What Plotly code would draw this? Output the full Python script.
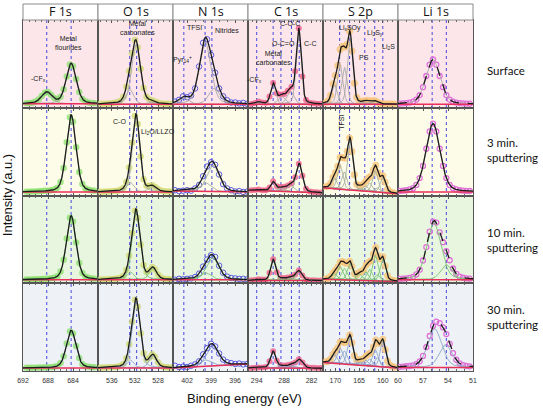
import numpy as np
import plotly.graph_objects as go

# ---------------- labels / axes ----------------
COLUMNS = ["F 1s", "O 1s", "N 1s", "C 1s", "S 2p", "Li 1s"]
ROWS = ["Surface", "3 min.<br>sputtering", "10 min.<br>sputtering", "30 min.<br>sputtering"]
X_RANGES = [(692, 680), (538.4, 525.4), (403.75, 394.4), (295.9, 279.5), (172.6, 156.8), (60, 51)]
TICKS = [[692, 688, 684], [536, 532, 528], [402, 399, 396], [294, 288, 282], [170, 165, 160], [60, 57, 54, 51]]
REF_LINES = [[688.2, 684.3], [532.9, 531.7, 529.1], [402.4, 399.75, 398.9],
             [294.0, 290.4, 288.7, 286.4, 284.7], [169.1, 167.0, 163.8, 161.7, 160.0], [55.9, 54.2]]

E_F = [691.5, 691.0, 690.5, 690.0, 689.5, 689.0, 688.5, 688.0, 687.5, 687.0, 686.5, 686.0,
       685.5, 685.0, 684.5, 684.0, 683.5, 683.0, 682.5, 682.0, 681.5, 681.0, 680.5]
F_R1 = [.052, .054, .058, .07, .094, .133, .172, .18, .148, .11, .096, .124, .21, .356, .494, .472, .328, .18, .1, .071, .06, .055, .052]
F_R2 = [.043, .044, .045, .046, .048, .05, .053, .055, .059, .067, .088, .154, .313, .608, .891, .84, .55, .269, .132, .081, .066, .058, .054]
F_R3 = [.042, .043, .044, .045, .047, .048, .051, .052, .056, .062, .08, .135, .267, .511, .746, .704, .463, .23, .116, .074, .062, .055, .052]
F_R4 = [.037, .037, .038, .038, .039, .04, .041, .042, .044, .048, .058, .091, .168, .313, .451, .426, .284, .147, .08, .055, .048, .044, .042]

E_O = [538.0, 537.5, 537.0, 536.5, 536.0, 535.5, 535.0, 534.5, 534.0, 533.5, 533.0, 532.5, 532.0,
       531.5, 531.0, 530.5, 530.0, 529.5, 529.0, 528.5, 528.0, 527.5, 527.0, 526.5, 526.0, 525.5]
O_R1 = [.045, .046, .047, .049, .052, .057, .063, .079, .126, .24, .419, .62, .771, .686, .444, .226, .126, .094, .083, .068, .056, .049, .047, .046, .045, .044]
O_R2 = [.044, .044, .045, .047, .048, .051, .054, .065, .086, .155, .32, .601, .906, .815, .444, .186, .11, .111, .118, .098, .071, .056, .049, .046, .045, .044]
O_R3 = [.043, .044, .045, .047, .049, .05, .054, .064, .086, .152, .313, .571, .826, .745, .439, .207, .128, .149, .185, .158, .10, .065, .052, .049, .046, .044]
O_R4 = [.038, .039, .04, .042, .044, .045, .049, .059, .081, .146, .305, .56, .811, .731, .428, .202, .125, .15, .19, .161, .099, .061, .047, .043, .041, .039]

E_N = [403.5, 403.0, 402.5, 402.0, 401.5, 401.0, 400.5, 400.0, 399.5, 399.0, 398.5, 398.0,
       397.5, 397.0, 396.5, 396.0, 395.5, 395.0, 394.5]
N_R1 = [.07, .09, .13, .12, .14, .22, .47, .74, .78, .60, .40, .22, .13, .085, .06, .06, .05, .055, .045]
N_R2 = [.06, .05, .055, .06, .055, .08, .12, .22, .33, .38, .35, .24, .13, .08, .06, .045, .05, .04, .045]
N_R3 = [.04, .05, .045, .05, .055, .07, .11, .19, .27, .32, .30, .2, .12, .075, .06, .055, .05, .05, .045]
N_R4 = [.06, .045, .05, .045, .06, .075, .11, .19, .26, .31, .28, .2, .13, .1, .09, .08, .085, .075, .08]

E_C = [295.2, 294.4, 293.6, 292.8, 292.0, 291.2, 290.4, 289.6, 288.8, 288.0, 287.2, 286.4,
       285.6, 284.8, 284.0, 283.2, 282.4, 281.6, 280.8, 280.0]
C_R1 = [.044, .054, .07, .059, .057, .129, .283, .166, .149, .158, .193, .239, .417, .906, .355, .088, .057, .05, .047, .045]
C_R2 = [.06, .062, .067, .061, .059, .09, .161, .105, .097, .10, .115, .14, .208, .362, .226, .078, .046, .04, .036, .033]
C_R3 = [.033, .037, .045, .042, .044, .119, .274, .126, .064, .061, .065, .075, .10, .145, .087, .043, .035, .033, .032, .032]
C_R4 = [.034, .036, .04, .04, .046, .11, .225, .116, .066, .062, .067, .076, .096, .135, .098, .052, .038, .036, .033, .033]

E_S = [172.0, 171.5, 171.0, 170.5, 170.0, 169.5, 169.0, 168.5, 168.0, 167.5, 167.0, 166.5, 166.0,
       165.5, 165.0, 164.5, 164.0, 163.5, 163.0, 162.5, 162.0, 161.5, 161.0, 160.5, 160.0, 159.5,
       159.0, 158.5, 158.0, 157.5]
S_R1 = [.061, .081, .143, .274, .367, .482, .663, .702, .69, .724, .873, .646, .279, .119, .078, .073, .078, .084, .079, .076, .081, .076, .06, .049, .045, .044, .043, .042, .042, .041]
S_R2 = [.10, .105, .14, .209, .262, .332, .433, .433, .424, .504, .656, .502, .236, .129, .114, .117, .136, .172, .203, .222, .29, .344, .26, .215, .225, .15, .073, .042, .032, .027]
S_R3 = [.051, .055, .076, .117, .145, .184, .241, .247, .233, .224, .252, .193, .109, .097, .125, .131, .157, .21, .24, .256, .334, .407, .313, .275, .302, .198, .086, .043, .033, .028]
S_R4 = [.104, .111, .137, .192, .229, .266, .33, .332, .323, .345, .411, .321, .176, .123, .127, .128, .142, .173, .194, .207, .276, .353, .316, .318, .361, .243, .114, .065, .05, .043]

E_LI = [59.8, 59.4, 59.0, 58.6, 58.2, 57.8, 57.4, 57.0, 56.6, 56.2, 55.8, 55.4, 55.0, 54.6, 54.2,
        53.8, 53.4, 53.0, 52.6, 52.2, 51.8, 51.4]
LI_R1 = [.048, .05, .053, .059, .069, .093, .144, .234, .362, .491, .55, .491, .362, .234, .144, .093, .069, .059, .053, .05, .048, .047]
LI_R2 = [.052, .055, .06, .069, .084, .121, .199, .337, .533, .73, .82, .73, .533, .337, .199, .121, .084, .069, .06, .055, .052, .051]
LI_R3 = [.05, .052, .056, .062, .073, .101, .155, .259, .412, .588, .703, .692, .58, .467, .366, .262, .168, .107, .076, .063, .056, .052]
LI_R4 = [.048, .05, .054, .057, .064, .078, .11, .172, .272, .399, .514, .563, .545, .497, .421, .309, .203, .128, .088, .067, .058, .053]

# ---------------- fitted components: (centre eV, height, FWHM eV) ----------------
F_PEAKS = [[(688.2, .13, 2.0), (684.3, .46, 1.9)], [(684.3, .88, 1.8)], [(684.3, .73, 1.8)], [(684.3, .43, 1.8)]]
O_PEAKS = [[(531.8, .68, 1.8), (532.9, .17, 1.6), (529.2, .025, 1.5)],
           [(531.8, .86, 1.5), (532.8, .11, 1.4), (529.0, .06, 1.6)],
           [(531.8, .78, 1.6), (532.8, .09, 1.4), (528.9, .13, 1.5)],
           [(531.8, .77, 1.6), (532.8, .09, 1.4), (528.9, .14, 1.5)]]
N_PEAKS = [[(402.4, .07, 1.4), (399.75, .71, 1.7), (398.6, .18, 1.6)],
           [(402.4, .01, 1.4), (399.7, .10, 1.6), (398.75, .30, 1.8)],
           [(402.4, .005, 1.4), (399.7, .08, 1.6), (398.8, .25, 1.8)],
           [(402.4, .005, 1.4), (399.7, .072, 1.6), (398.8, .22, 1.8)]]
C_PEAKS = [[(293.8, .025, 1.5), (290.4, .23, 1.3), (288.5, .09, 1.8), (286.6, .15, 1.8), (284.8, .85, 1.3)],
           [(293.8, .01, 1.5), (290.4, .105, 1.3), (288.5, .04, 1.8), (286.6, .07, 1.8), (284.7, .32, 1.6)],
           [(293.8, .01, 1.5), (290.4, .24, 1.3), (288.5, .02, 1.8), (286.6, .03, 1.8), (284.8, .11, 1.6)],
           [(293.8, .008, 1.5), (290.4, .19, 1.4), (288.5, .02, 1.8), (286.6, .03, 1.8), (284.7, .10, 1.8)]]
S_PEAKS = [[(170.2, .22, 1.3), (169.0, .45, 1.3), (168.1, .42, 1.3), (166.9, .76, 1.3), (163.5, .03, 1.5), (161.8, .035, 1.5)],
           [(170.2, .12, 1.3), (169.0, .27, 1.3), (168.1, .20, 1.3), (166.9, .56, 1.3), (164.8, .03, 1.3),
            (163.6, .06, 1.3), (162.8, .10, 1.3), (161.6, .24, 1.3), (161.2, .05, 1.3), (160.0, .17, 1.3)],
           [(170.2, .07, 1.3), (169.0, .15, 1.3), (168.1, .13, 1.3), (166.9, .19, 1.3), (164.9, .07, 1.3),
            (163.6, .10, 1.3), (162.8, .13, 1.3), (161.6, .29, 1.3), (161.2, .07, 1.3), (160.0, .25, 1.3)],
           [(170.2, .10, 1.3), (169.0, .18, 1.3), (168.1, .15, 1.3), (166.9, .31, 1.3), (164.9, .04, 1.3),
            (163.6, .06, 1.3), (162.8, .08, 1.3), (161.6, .19, 1.3), (161.2, .10, 1.3), (160.0, .29, 1.3)]]
LI_PEAKS = [[(55.8, .51, 2.0)], [(55.8, .78, 2.0)], [(55.7, .65, 2.0), (54.2, .17, 1.6)], [(55.6, .44, 2.0), (54.3, .26, 1.8)]]

# background (left-edge value, right-edge value)
F_BASE = [(.045, .045), (.04, .04), (.04, .04), (.035, .035)]
O_BASE = [(.04, .04), (.04, .04), (.04, .04), (.035, .035)]
N_BASE = [(.04, .04), (.05, .04), (.04, .04), (.035, .08)]
C_BASE = [(.04, .04), (.06, .03), (.032, .032), (.035, .03)]
S_BASE = [(.04, .04), (.088, .019), (.045, .02), (.097, .034)]
LI_BASE = [(.04, .04), (.04, .04), (.04, .04), (.04, .04)]

ENERGIES = [E_F, E_O, E_N, E_C, E_S, E_LI]
DATA = [[F_R1, F_R2, F_R3, F_R4], [O_R1, O_R2, O_R3, O_R4], [N_R1, N_R2, N_R3, N_R4],
        [C_R1, C_R2, C_R3, C_R4], [S_R1, S_R2, S_R3, S_R4], [LI_R1, LI_R2, LI_R3, LI_R4]]
PEAKS = [F_PEAKS, O_PEAKS, N_PEAKS, C_PEAKS, S_PEAKS, LI_PEAKS]
BASES = [F_BASE, O_BASE, N_BASE, C_BASE, S_BASE, LI_BASE]

# ---------------- styles ----------------
ROW_BG = ['#fce6ea', '#fdfce8', '#e9f6df', '#eef2f6']
COMP_COL = ['#a9a9a9', '#a6b2a0', '#7cc27a', '#8ea8c8']
MARKERS = [
    dict(symbol='circle', size=6.5, color='rgba(130,222,100,0.7)', line=dict(width=0)),
    dict(symbol='circle', size=6.5, color='rgba(208,218,112,0.75)', line=dict(width=0)),
    dict(symbol='circle-open', size=5.5, color='#5c5ce0', line=dict(width=1)),
    dict(symbol='circle', size=6, color='rgba(240,84,132,0.75)', line=dict(width=0)),
    dict(symbol='circle', size=7, color='rgba(246,196,122,0.8)', line=dict(width=0)),
    dict(symbol='circle-open', size=5, color='#e070d8', line=dict(width=1.3)),
]


def gl(x, c, a, w):
    r = (x - c) / w
    return a * (0.7 * np.exp(-4 * np.log(2) * r ** 2) + 0.3 / (1 + 4 * r ** 2))


fig = go.Figure()
layout = {}
shapes = []
annotations = []

# row backgrounds
for r in range(4):
    shapes.append(dict(type='rect', xref='paper', yref='paper', x0=0, x1=1,
                       y0=1 - (r + 1) / 4, y1=1 - r / 4, fillcolor=ROW_BG[r],
                       line=dict(width=0), layer='below'))

for c in range(6):
    x0, x1 = X_RANGES[c]
    xs = np.linspace(x0, x1, 400)
    for r in range(4):
        idx = r * 6 + c + 1
        xa = 'x' if idx == 1 else f'x{idx}'
        ya = 'y' if idx == 1 else f'y{idx}'
        bl0, bl1 = BASES[c][r]
        base = bl0 + (bl1 - bl0) * (x0 - xs) / (x0 - x1)
        # measured points
        fig.add_trace(go.Scatter(x=ENERGIES[c], y=DATA[c][r], mode='markers', marker=MARKERS[c],
                                 xaxis=xa, yaxis=ya, showlegend=False, hoverinfo='skip'))
        env = base.copy()
        for (pc, pa, pw) in PEAKS[c][r]:
            comp = gl(xs, pc, pa, pw)
            env = env + comp
            fig.add_trace(go.Scatter(x=xs, y=base + comp, mode='lines',
                                     line=dict(color=COMP_COL[r], width=0.9),
                                     xaxis=xa, yaxis=ya, showlegend=False, hoverinfo='skip'))
        fig.add_trace(go.Scatter(x=xs, y=base, mode='lines', line=dict(color='#e8305a', width=1.5),
                                 xaxis=xa, yaxis=ya, showlegend=False, hoverinfo='skip'))
        dash = 'dash' if (c == 5 and r != 1) else 'solid'
        fig.add_trace(go.Scatter(x=xs, y=env, mode='lines', line=dict(color='#1c1c1c', width=1.3, dash=dash),
                                 xaxis=xa, yaxis=ya, showlegend=False, hoverinfo='skip'))

        xkey = 'xaxis' if idx == 1 else f'xaxis{idx}'
        ykey = 'yaxis' if idx == 1 else f'yaxis{idx}'
        layout[xkey] = dict(domain=[c / 6, (c + 1) / 6], range=[x0, x1], anchor=ya,
                            showline=True, linecolor='#555555', linewidth=1, mirror='allticks',
                            ticks='inside', ticklen=3, tickcolor='#555555', tickvals=TICKS[c],
                            showticklabels=(r == 3), ticklabelstandoff=3,
                            tickfont=dict(family='Liberation Sans', size=7, color='#333333'),
                            minor=dict(ticks='inside', ticklen=2, dtick=1, tick0=0, tickcolor='#666666'),
                            showgrid=False, zeroline=False, fixedrange=True)
        layout[ykey] = dict(domain=[1 - (r + 1) / 4, 1 - r / 4], range=[0, 1], anchor=xa,
                            showline=True, linecolor='#555555', linewidth=1, mirror=True,
                            showticklabels=False, ticks='', showgrid=False, zeroline=False,
                            fixedrange=True)

    # dotted reference lines through the whole column
    xref_top = 'x' if c == 0 else f'x{c + 1}'
    for v in REF_LINES[c]:
        shapes.append(dict(type='line', xref=xref_top, yref='paper', x0=v, x1=v, y0=0, y1=1,
                           line=dict(color='#4646e0', width=1.0, dash='dot'), layer='below'))
    # header box
    shapes.append(dict(type='rect', xref='paper', yref='paper', x0=c / 6, x1=(c + 1) / 6,
                       y0=1, y1=1 + 16 / 351, fillcolor='white', line=dict(color='#8a8a8a', width=1)))
    annotations.append(dict(text=COLUMNS[c], xref='paper', yref='paper', x=(c + 0.5) / 6,
                            y=1 + 8 / 351, showarrow=False, xanchor='center', yanchor='middle',
                            font=dict(family='Open Sans', size=12.5, color='#111111')))

# row labels
ROW_Y = [0.8575, 0.63, 0.373, 0.154]
for r in range(4):
    annotations.append(dict(text=ROWS[r], xref='paper', yref='paper', x=1.027, y=ROW_Y[r],
                            showarrow=False, xanchor='left', yanchor='middle', align='left',
                            font=dict(family='Lato', size=11.5, color='#111111')))

# in-panel labels: (column, row, energy, height, text, angle)
LABELS = [
    (0, 0, 684.8, .74, "Metal<br>flourides", 0),
    (0, 0, 689.6, .33, "-CF<sub>x</sub>", 0),
    (1, 0, 531.6, .91, "Metal<br>carbonates", 0),
    (2, 0, 401.0, .92, "TFSI<sup>-</sup>", 0),
    (2, 0, 397.0, .875, "Nitrides", 0),
    (2, 0, 402.6, .545, "Pyr<sub>14</sub><sup>+</sup>", 0),
    (3, 0, 286.7, .955, "C-O-C", 0),
    (3, 0, 288.2, .73, "O-C=O", 0),
    (3, 0, 290.4, .57, "Metal<br>carbonates", 0),
    (3, 0, 282.3, .73, "C-C", 0),
    (3, 0, 294.4, .32, "-CF<sub>x</sub>", 0),
    (4, 0, 166.9, .91, "Li<sub>x</sub>SOy", 0),
    (4, 0, 161.65, .85, "Li<sub>2</sub>S<sub>y</sub>", 0),
    (4, 0, 158.9, .69, "Li<sub>2</sub>S", 0),
    (4, 0, 164.0, .57, "PS", 0),
    (1, 1, 534.6, .84, "C-O", 0),
    (1, 1, 528.0, .72, "Li<sub>2</sub>O/LLZO", 0),
    (4, 1, 168.8, .84, "TFSI<sup>-</sup>", -90),
]
for (c, r, xv, yv, txt, ang) in LABELS:
    idx = r * 6 + c + 1
    annotations.append(dict(text=txt, x=xv, y=yv, xref='x' if idx == 1 else f'x{idx}',
                            yref='y' if idx == 1 else f'y{idx}', showarrow=False, textangle=ang,
                            font=dict(family='Liberation Sans', size=7, color='#222222')))

# axis titles
annotations.append(dict(text='Intensity (a.u.)', xref='paper', yref='paper', x=-0.034, y=0.5,
                        textangle=-90, showarrow=False, xanchor='center', yanchor='middle',
                        font=dict(family='Liberation Sans', size=13, color='#111111')))
annotations.append(dict(text='Binding energy (eV)', xref='paper', yref='paper', x=0.493, y=-0.077,
                        showarrow=False, xanchor='center', yanchor='middle',
                        font=dict(family='Liberation Sans', size=13, color='#111111')))

fig.update_layout(width=543, height=410, margin=dict(l=23, r=70, t=20, b=39),
                  paper_bgcolor='white', plot_bgcolor='rgba(0,0,0,0)', hovermode=False,
                  shapes=shapes, annotations=annotations, showlegend=False, **layout)

fig.write_html("out.html", config={'displayModeBar': False, 'staticPlot': True},
               post_script="document.body.style.margin='0px';")
